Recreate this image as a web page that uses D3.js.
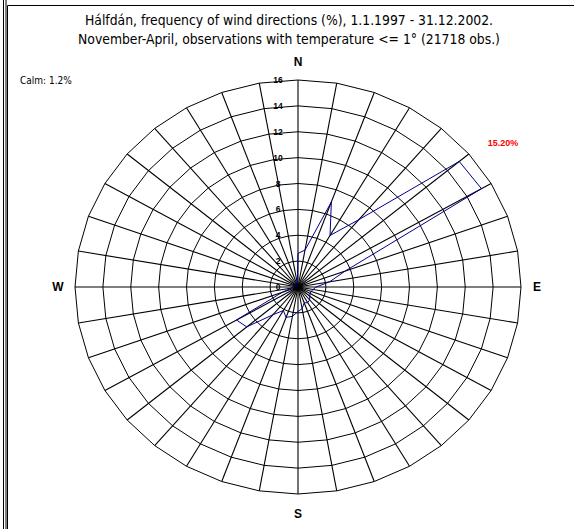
<!DOCTYPE html>
<html>
<head>
<meta charset="utf-8">
<script src="https://cdn.jsdelivr.net/npm/d3@7"></script>
<style>
  body { margin: 0; background: #fff; }
  svg { display: block; }
</style>
</head>
<body>
<script>
// wind direction (degrees from north, clockwise) and frequency in %
var directions = d3.range(0, 360, 10);
var freq = [2.6, 2.9, 7.0, 4.6, 6.8, 15.1, 15.2, 3.6, 2.3, 1.3, 1.1, 1.0,
            1.0, 1.1, 1.3, 1.4, 1.3, 1.7, 1.9, 2.3, 2.5, 2.1, 2.8, 4.8,
            5.1, 1.2, 0.5, 0.3, 0.2, 0.2, 0.2, 0.2, 0.2, 0.2, 0.2, 0.3];
var ringValues = [2, 4, 6, 8, 10, 12, 14, 16];
var ringLabels = [0, 2, 4, 6, 8, 10, 12, 14, 16];
var compass = [["N", 0], ["E", 90], ["S", 180], ["W", 270]];
var titleLines = ["Hálfdán, frequency of wind directions (%), 1.1.1997 - 31.12.2002.",
                  "November-April, observations with temperature <= 1° (21718 obs.)"];
var calmText = "Calm: 1.2%";
var maxText = "15.20%";

var w = 574, h = 529;
var cx = 298, cy = 287;

// the rose is a bit wider than tall
var rx = d3.scaleLinear().domain([0, 16]).range([0, 223]);
var ry = d3.scaleLinear().domain([0, 16]).range([0, 207]);

function pt(deg, v) {
  var a = deg * Math.PI / 180;
  return [cx + rx(v) * Math.sin(a), cy - ry(v) * Math.cos(a)];
}

var svg = d3.select("body").append("svg")
  .attr("width", w)
  .attr("height", h);

// frame
svg.append("line").attr("x1", 3.5).attr("x2", 3.5).attr("y1", 0).attr("y2", h)
  .attr("stroke", "#000");
svg.append("line").attr("x1", 6).attr("x2", 6).attr("y1", 0).attr("y2", h)
  .attr("stroke", "#000");
svg.append("path").attr("d", "M7.5," + h + "V5.5H" + w)
  .attr("fill", "none").attr("stroke", "#000");

// title
svg.selectAll(".title")
  .data(titleLines)
  .enter()
  .append("text")
  .attr("x", 289)
  .attr("y", function(d, i) { return 25 + i * 18.5; })
  .attr("text-anchor", "middle")
  .style("font-family", "Tahoma, 'DejaVu Sans Condensed', 'Liberation Sans', sans-serif")
  .style("font-size", "13.8px")
  .text(function(d) { return d; });

var line = d3.line();

// rings
svg.selectAll(".ring")
  .data(ringValues)
  .enter()
  .append("path")
  .attr("d", function(v) {
    return line(directions.map(function(d) { return pt(d, v); })) + "Z";
  })
  .attr("fill", "none")
  .attr("stroke", "#000")
  .attr("stroke-width", 1);

// spokes
svg.selectAll(".spoke")
  .data(directions)
  .enter()
  .append("path")
  .attr("d", function(d) { return line([pt(d, 0), pt(d, 16)]); })
  .attr("stroke", "#000")
  .attr("stroke-width", 1.1);

// scale labels along north spoke
svg.selectAll(".rlabel")
  .data(ringLabels)
  .enter()
  .append("text")
  .attr("x", cx - 20)
  .attr("y", function(v) { return cy - ry(v) + 3; })
  .attr("text-anchor", "middle")
  .style("font-family", "Arial, 'Liberation Sans', sans-serif")
  .style("font-size", "8.5px")
  .style("font-weight", "bold")
  .text(function(v) { return v; });

// frequency polygon
svg.append("path")
  .attr("d", line(directions.map(function(d, i) { return pt(d, freq[i]); })) + "Z")
  .attr("fill", "none")
  .attr("stroke", "#00008b")
  .attr("stroke-width", 1);

// compass letters
svg.selectAll(".compass")
  .data(compass)
  .enter()
  .append("text")
  .attr("x", function(d) { return d[1] === 90 ? cx + 239 : d[1] === 270 ? cx - 240 : cx; })
  .attr("y", function(d) { return d[1] === 0 ? 66 : d[1] === 180 ? 518 : cy + 4; })
  .attr("text-anchor", "middle")
  .style("font-family", "Arial, 'Liberation Sans', sans-serif")
  .style("font-size", "12px")
  .style("font-weight", "bold")
  .text(function(d) { return d[0]; });

svg.append("text")
  .attr("x", 20)
  .attr("y", 84)
  .style("font-family", "Tahoma, 'DejaVu Sans Condensed', 'Liberation Sans', sans-serif")
  .style("font-size", "10px")
  .text(calmText);

svg.append("text")
  .attr("x", 503)
  .attr("y", 146)
  .attr("text-anchor", "middle")
  .attr("fill", "#ff0000")
  .style("font-family", "Arial, 'Liberation Sans', sans-serif")
  .style("font-size", "9px")
  .style("font-weight", "bold")
  .text(maxText);
</script>
</body>
</html>
